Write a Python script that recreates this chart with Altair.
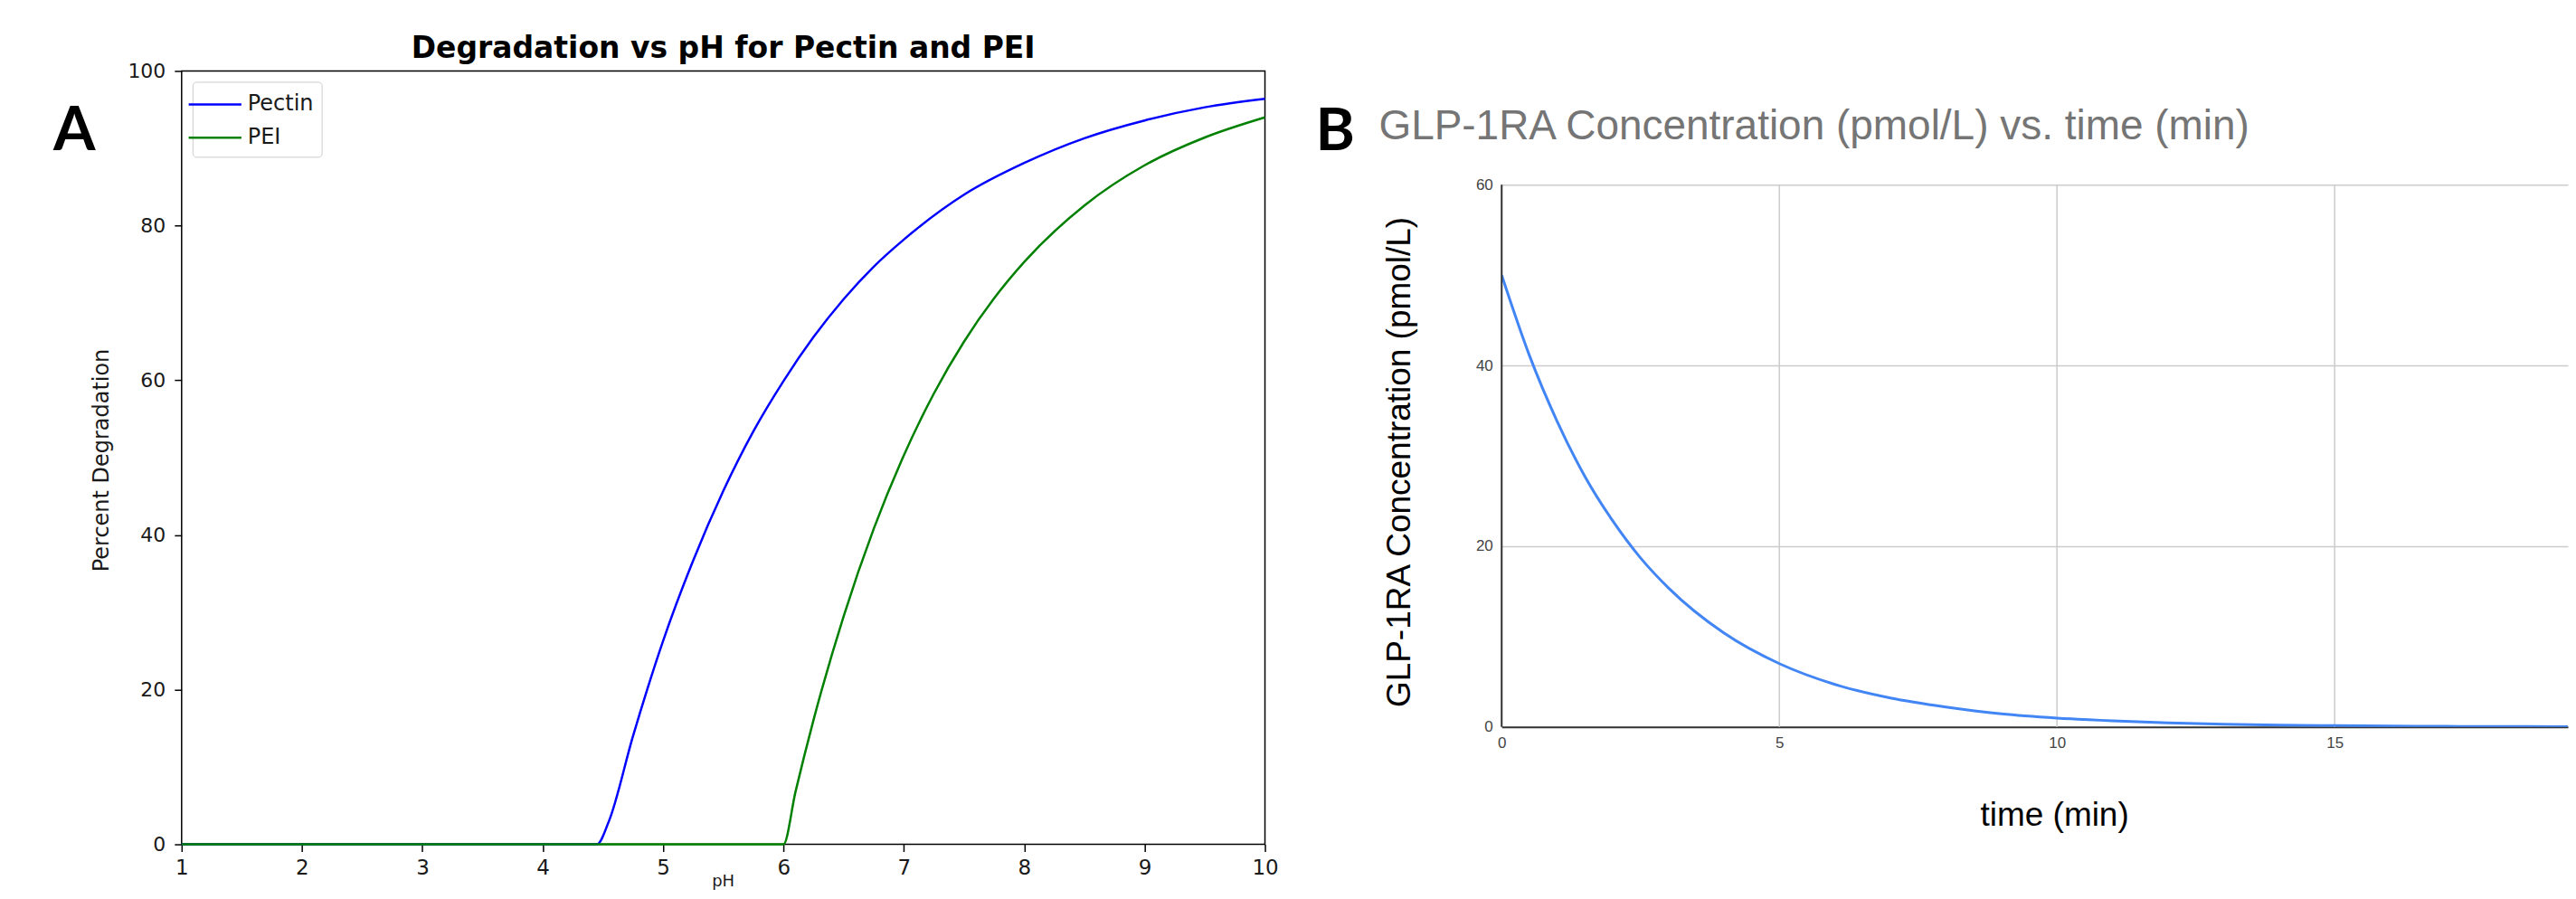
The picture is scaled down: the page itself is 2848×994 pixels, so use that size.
import altair as alt
import pandas as pd

# ---------------- Panel A data ----------------
ph_pectin = [1.0, 2.0, 3.0, 4.0, 4.45, 4.55, 4.75, 5.0, 5.25, 5.5, 5.75, 6.0,
             6.25, 6.5, 6.75, 7.0, 7.5, 8.0, 8.5, 9.0, 9.5, 10.0]
deg_pectin = [0, 0, 0, 0, 0, 3, 14, 26.3, 36.7, 45.7, 53.4, 59.9,
              65.6, 70.5, 74.7, 78.2, 84.0, 88.1, 91.3, 93.6, 95.3, 96.4]
ph_pei = [1.0, 2.0, 3.0, 4.0, 5.0, 6.0, 6.1, 6.25, 6.5, 6.75, 7.0, 7.25,
          7.5, 7.75, 8.0, 8.5, 9.0, 9.5, 10.0]
deg_pei = [0, 0, 0, 0, 0, 0, 6.8, 16.1, 29.5, 40.8, 50.3, 58.3,
           65.0, 70.6, 75.3, 82.6, 87.8, 91.4, 94.0]
series_names = ["Pectin", "PEI"]
series_colors = ["#0000ff", "#008000"]
ph_ticks = [1, 2, 3, 4, 5, 6, 7, 8, 9, 10]
deg_ticks = [0, 20, 40, 60, 80, 100]

# ---------------- Panel B data ----------------
t_min = [0, 0.5, 1, 1.5, 2, 2.5, 3, 4, 5, 6, 7, 8, 9, 10, 11, 12, 13, 14,
         15, 16, 17, 18, 19, 20]
conc = [50, 41.1, 33.8, 27.7, 22.8, 18.7, 15.4, 10.4, 7.0, 4.7, 3.2, 2.2,
        1.45, 0.98, 0.66, 0.45, 0.30, 0.20, 0.14, 0.09, 0.06, 0.04, 0.03, 0.02]
t_ticks = [0, 5, 10, 15]
c_ticks = [0, 20, 40, 60]
c_axis_top = 60

dfA = pd.DataFrame({
    "pH": ph_pectin + ph_pei,
    "deg": deg_pectin + deg_pei,
    "series": ["Pectin"] * len(ph_pectin) + ["PEI"] * len(ph_pei),
})
dfB = pd.DataFrame({"t": t_min, "c": conc})
dfB_axis = pd.DataFrame({"t": [0], "c0": [0], "c1": [c_axis_top]})
dfB_grid = pd.DataFrame({"t": t_ticks, "c0": [0] * len(t_ticks),
                         "c1": [c_axis_top] * len(t_ticks)})


def txt(s, x, y, **kw):
    return alt.Chart(pd.DataFrame({"t": [s]})).mark_text(**kw).encode(
        text="t:N", x=alt.value(x), y=alt.value(y))


def dummy(x, y):
    return txt(".", x, y, fontSize=1, opacity=0, align="left", baseline="top")


WA, HA = 1199, 856
WB, HB = 1180, 726   # B plot shares A's top; its axis stops at 60

xA = alt.X("pH:Q", scale=alt.Scale(domain=[1, 10], nice=False, zero=False),
           axis=alt.Axis(values=ph_ticks, format="d", title=None, grid=False,
                         domain=False, tickSize=8, tickColor="black",
                         tickWidth=1.5, labelFont="DejaVu Sans",
                         labelFontSize=23, labelColor="#1a1a1a",
                         labelPadding=7, labelFlush=False))
yA = alt.Y("deg:Q", scale=alt.Scale(domain=[0, 100], nice=False),
           axis=alt.Axis(values=deg_ticks, format="d", title=None, grid=False,
                         domain=False, tickSize=8, tickColor="black",
                         tickWidth=1.5, labelFont="DejaVu Sans",
                         labelFontSize=22, labelColor="#1a1a1a",
                         labelPadding=10))
colorA = alt.Color(
    "series:N",
    scale=alt.Scale(domain=series_names, range=series_colors),
    legend=alt.Legend(title=None, orient="none", legendX=12, legendY=12,
                      symbolType="M-2,0L2,0", symbolSize=850,
                      symbolStrokeWidth=2.5, labelFont="DejaVu Sans",
                      labelFontSize=24, labelColor="#1a1a1a", labelOffset=20,
                      rowPadding=9, padding=9, fillColor="white",
                      strokeColor="#cccccc", cornerRadius=4))

baseA = alt.Chart(dfA).mark_line(strokeWidth=2.5, interpolate="monotone").encode(
    x=xA, y=yA, color=colorA)
pectin = baseA.transform_filter(alt.datum.series == "Pectin")
pei = baseA.transform_filter(alt.datum.series == "PEI")

panelA = alt.layer(
    pectin, pei,
    txt("Degradation vs pH for Pectin and PEI", WA / 2, -14, font="DejaVu Sans",
        fontSize=33, fontWeight="bold", align="center", baseline="alphabetic",
        color="black"),
    txt("A", -142, 88, font="Lato", fontSize=67, fontWeight="bold",
        align="left", baseline="alphabetic", color="black"),
    txt("Percent Degradation", -88, 431, font="DejaVu Sans", fontSize=24,
        angle=270, align="center", baseline="middle", color="#1a1a1a"),
    txt("pH", WA / 2, 889, font="DejaVu Sans", fontSize=18, align="center",
        baseline="top", color="#1a1a1a"),
    dummy(-192, -69),
    dummy(1230, -69),
).properties(width=WA, height=HA,
             view=alt.ViewBackground(stroke="black", strokeWidth=1.5))

xB = alt.X("t:Q", scale=alt.Scale(domain=[0, 19.2], nice=False, zero=False),
           axis=alt.Axis(values=t_ticks, format="d", title=None, grid=False,
                         domain=True, domainColor="#333333", domainWidth=2,
                         ticks=False, tickSize=0, labelFont="Liberation Sans",
                         labelFontSize=17, labelColor="#444444",
                         labelPadding=10, labelFlush=False))
yB = alt.Y("c:Q", scale=alt.Scale(domain=[0, 72.6], nice=False),
           axis=alt.Axis(values=c_ticks, format="d", title=None, grid=True,
                         gridColor="#cccccc", gridWidth=1.5, domain=False,
                         ticks=False, tickSize=0, labelFont="Liberation Sans",
                         labelFontSize=17, labelColor="#444444",
                         labelPadding=10))

gridB = alt.Chart(dfB_grid).mark_rule(color="#cccccc", strokeWidth=1.5).encode(
    x=alt.X("t:Q", scale=alt.Scale(domain=[0, 19.2], nice=False, zero=False)),
    y="c0:Q", y2="c1:Q")
lineB = alt.Chart(dfB).mark_line(color="#4285F4", strokeWidth=3,
                                 interpolate="monotone", clip=True).encode(
    x=xB, y=yB)
axisB = alt.Chart(dfB_axis).mark_rule(color="#333333", strokeWidth=2).encode(
    x="t:Q", y="c0:Q", y2="c1:Q")

panelB = alt.layer(
    gridB,
    lineB,
    axisB,
    txt("GLP-1RA Concentration (pmol/L) vs. time (min)", -136, 76,
        font="Liberation Sans", fontSize=46, align="left",
        baseline="alphabetic", color="#757575"),
    txt("B", -206, 88, font="Lato", fontSize=66, fontWeight="bold",
        align="left", baseline="alphabetic", color="black"),
    txt("GLP-1RA Concentration (pmol/L)", -112, 433, font="Liberation Sans",
        fontSize=37, angle=270, align="center", baseline="middle",
        color="black"),
    txt("time (min)", 612, 835, font="Liberation Sans", fontSize=37,
        align="center", baseline="alphabetic", color="black"),
    dummy(-228, 300),
).properties(width=WB, height=HB)

chart = alt.hconcat(panelA, panelB, spacing=0, padding=0).configure(
    background="white").configure_view(stroke="transparent")

chart.save("out.html", embed_options={"renderer": "svg", "actions": False})
